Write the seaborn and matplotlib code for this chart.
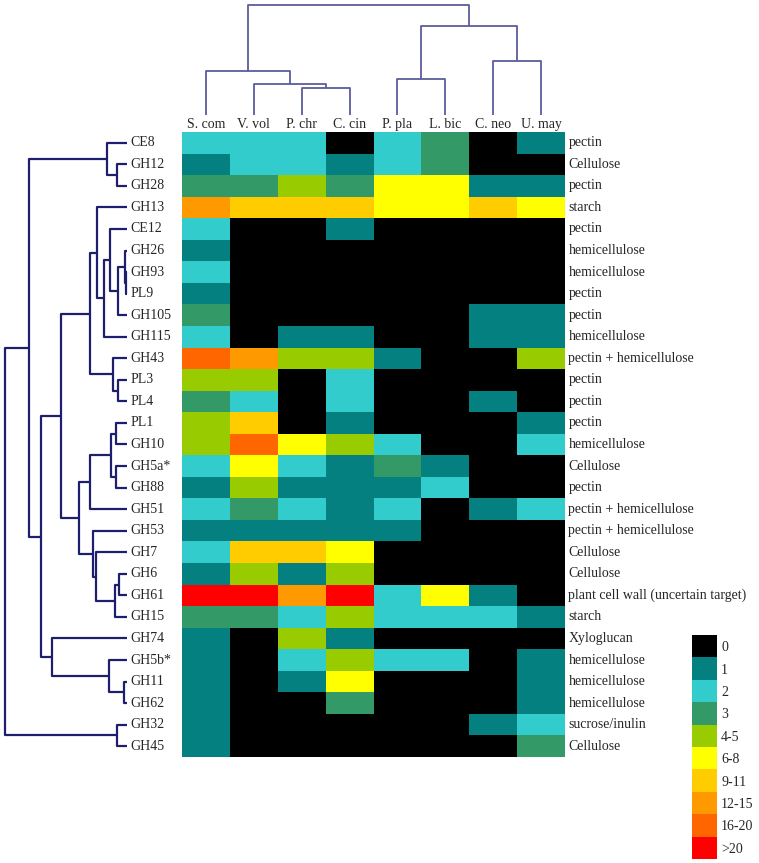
import numpy as np
import pandas as pd
import matplotlib
matplotlib.use("Agg")
import matplotlib.pyplot as plt
from matplotlib.colors import ListedColormap
import seaborn as sns

sns.set_style("white")
plt.rcParams['font.family'] = ['Liberation Serif', 'DejaVu Serif']

# ---------------- data ----------------
species = ["S. com", "V. vol", "P. chr", "C. cin", "P. pla", "L. bic", "C. neo", "U. may"]
families = ["CE8", "GH12", "GH28", "GH13", "CE12", "GH26", "GH93", "PL9", "GH105", "GH115",
            "GH43", "PL3", "PL4", "PL1", "GH10", "GH5a*", "GH88", "GH51", "GH53", "GH7",
            "GH6", "GH61", "GH15", "GH74", "GH5b*", "GH11", "GH62", "GH32", "GH45"]
substrates = ["pectin", "Cellulose", "pectin", "starch", "pectin", "hemicellulose", "hemicellulose",
              "pectin", "pectin", "hemicellulose", "pectin + hemicellulose", "pectin", "pectin",
              "pectin", "hemicellulose", "Cellulose", "pectin", "pectin + hemicellulose",
              "pectin + hemicellulose", "Cellulose", "Cellulose", "plant cell wall (uncertain target)",
              "starch", "Xyloglucan", "hemicellulose", "hemicellulose", "hemicellulose",
              "sucrose/inulin", "Cellulose"]
# class index per cell (0 -> "0", 1 -> "1", 2 -> "2", 3 -> "3", 4 -> "4-5", 5 -> "6-8",
# 6 -> "9-11", 7 -> "12-15", 8 -> "16-20", 9 -> ">20")
classes = [
    [2, 2, 2, 0, 2, 3, 0, 1],  # CE8
    [1, 2, 2, 1, 2, 3, 0, 0],  # GH12
    [3, 3, 4, 3, 5, 5, 1, 1],  # GH28
    [7, 6, 6, 6, 5, 5, 6, 5],  # GH13
    [2, 0, 0, 1, 0, 0, 0, 0],  # CE12
    [1, 0, 0, 0, 0, 0, 0, 0],  # GH26
    [2, 0, 0, 0, 0, 0, 0, 0],  # GH93
    [1, 0, 0, 0, 0, 0, 0, 0],  # PL9
    [3, 0, 0, 0, 0, 0, 1, 1],  # GH105
    [2, 0, 1, 1, 0, 0, 1, 1],  # GH115
    [8, 7, 4, 4, 1, 0, 0, 4],  # GH43
    [4, 4, 0, 2, 0, 0, 0, 0],  # PL3
    [3, 2, 0, 2, 0, 0, 1, 0],  # PL4
    [4, 6, 0, 1, 0, 0, 0, 1],  # PL1
    [4, 8, 5, 4, 2, 0, 0, 2],  # GH10
    [2, 5, 2, 1, 3, 1, 0, 0],  # GH5a*
    [1, 4, 1, 1, 1, 2, 0, 0],  # GH88
    [2, 3, 2, 1, 2, 0, 1, 2],  # GH51
    [1, 1, 1, 1, 1, 0, 0, 0],  # GH53
    [2, 6, 6, 5, 0, 0, 0, 0],  # GH7
    [1, 4, 1, 4, 0, 0, 0, 0],  # GH6
    [9, 9, 7, 9, 2, 5, 1, 0],  # GH61
    [3, 3, 2, 4, 2, 2, 2, 1],  # GH15
    [1, 0, 4, 1, 0, 0, 0, 0],  # GH74
    [1, 0, 2, 4, 2, 2, 0, 1],  # GH5b*
    [1, 0, 1, 5, 0, 0, 0, 1],  # GH11
    [1, 0, 0, 3, 0, 0, 0, 1],  # GH62
    [1, 0, 0, 0, 0, 0, 1, 2],  # GH32
    [1, 0, 0, 0, 0, 0, 0, 3],  # GH45
]
legend_labels = ["0", "1", "2", "3", "4-5", "6-8", "9-11", "12-15", "16-20", ">20"]
palette = ["#000000", "#048080", "#33CCCC", "#339966", "#99CC00",
           "#FFFF00", "#FFCC00", "#FF9900", "#FF6600", "#FF0000"]

# dendrogram trees: (left, right, merge height)
row_tree = (
    (("CE8", ("GH12", "GH28", 10), 20),
     (((("GH13", ((("CE12", ((("GH26", ("GH93", "PL9", 1), 2)), "GH105", 9), 17)), "GH115", 23), 30),
        ("GH43", ("PL3", "PL4", 9), 14), 37),
       (((("PL1", "GH10", 11), ("GH5a*", "GH88", 11), 16), "GH51", 37),
        ("GH53", ("GH7", (("GH6", "GH61", 8), "GH15", 12), 31), 34), 48), 66),
      ("GH74", ("GH5b*", ("GH11", "GH62", 3), 18), 75), 86), 98),
    ("GH32", "GH45", 10), 122)
col_tree = (("S. com", ("V. vol", ("P. chr", "C. cin", 27), 31), 44),
            (("P. pla", "L. bic", 36), ("C. neo", "U. may", 54), 89), 110)

# ---------------- figure ----------------
W, H = 759, 863
fig = plt.figure(figsize=(W / 100, H / 100), dpi=100)

def fx(px):
    return px / W

def fy(py):
    return 1 - py / H

hm_l, hm_r, hm_t, hm_b = 182, 565, 132, 757
ax = fig.add_axes([fx(hm_l), fy(hm_b), fx(hm_r - hm_l), (hm_b - hm_t) / H])
df = pd.DataFrame(classes, index=families, columns=species)
cmap = ListedColormap(palette)
sns.heatmap(df, ax=ax, cmap=cmap, vmin=-0.5, vmax=9.5, cbar=False,
            xticklabels=True, yticklabels=True, linewidths=0)
ax.xaxis.tick_top()
ax.tick_params(axis='x', length=0, pad=1, labelsize=10)
ax.tick_params(axis='y', length=0, pad=37, labelsize=10)
plt.setp(ax.get_xticklabels(), rotation=0)
plt.setp(ax.get_yticklabels(), rotation=0, ha='left')
for i, s in enumerate(substrates):
    ax.text(8.07, i + 0.5, s, ha='left', va='center', fontsize=10, clip_on=False)

# ---------------- dendrograms ----------------
def draw_tree(axd, tree, order, color, lw, orient):
    def rec(node):
        if isinstance(node, str):
            return order.index(node) + 0.5, 0.0
        l, r, h = node
        pl, hl = rec(l)
        pr, hr = rec(r)
        if orient == 'left':
            axd.plot([hl, h, h, hr], [pl, pl, pr, pr], color=color, lw=lw,
                     solid_capstyle='butt', clip_on=False)
        else:
            axd.plot([pl, pl, pr, pr], [hl, h, h, hr], color=color, lw=lw,
                     solid_capstyle='butt', clip_on=False)
        return (pl + pr) / 2, h
    rec(tree)

axr = fig.add_axes([0, fy(hm_b), fx(127), (hm_b - hm_t) / H])
draw_tree(axr, row_tree, families, "#1e1e6e", 1.6, 'left')
axr.set_xlim(127, 0)
axr.set_ylim(len(families), 0)
axr.axis('off')

axc = fig.add_axes([fx(hm_l), fy(115), fx(hm_r - hm_l), 115 / H])
draw_tree(axc, col_tree, species, "#5c5c9c", 1.3, 'top')
axc.set_xlim(0, len(species))
axc.set_ylim(0, 115)
axc.axis('off')

# ---------------- legend ----------------
axl = fig.add_axes([fx(692), fy(859), fx(25), (859 - 635) / H])
leg = pd.DataFrame({"v": list(range(len(legend_labels)))}, index=legend_labels)
sns.heatmap(leg, ax=axl, cmap=cmap, vmin=-0.5, vmax=9.5, cbar=False,
            xticklabels=False, yticklabels=True)
axl.yaxis.tick_right()
axl.tick_params(axis='y', length=0, pad=3, labelsize=10)
plt.setp(axl.get_yticklabels(), rotation=0, ha='left')
axl.set_ylabel("")

fig.savefig("out.png", dpi=100)
